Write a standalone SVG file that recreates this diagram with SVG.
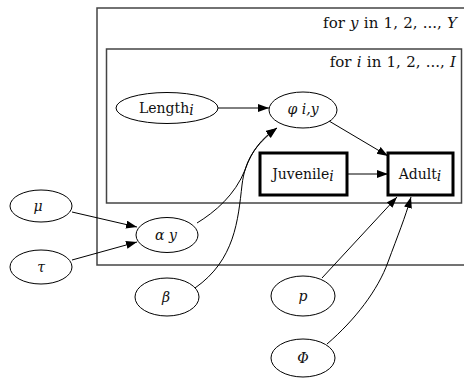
<svg xmlns="http://www.w3.org/2000/svg" width="464" height="380" viewBox="0 0 464 380" font-family="'DejaVu Serif', serif">
<defs>
<marker id="ah" markerUnits="userSpaceOnUse" markerWidth="12" markerHeight="9" refX="11" refY="4" orient="auto">
<path d="M0,0 L11,4 L0,8 z" fill="#000"/>
</marker>
<style>
.plate{fill:none;stroke:#444;stroke-width:1.5}
.node{fill:#fff;stroke:#000;stroke-width:1}
.box{fill:#fff;stroke:#000;stroke-width:3}
.edge{fill:none;stroke:#000;stroke-width:1;marker-end:url(#ah)}
text{font-family:'DejaVu Serif',serif;font-size:14px;fill:#111}
.lab{font-size:15px;word-spacing:0.5px}
.m{font-style:italic}
</style>
</defs>
<rect width="464" height="380" fill="#fff"/>
<g id="plate-y">
<rect class="plate" x="97" y="8" width="380" height="257"/>
<text class="lab" x="457" y="28" text-anchor="end">for <tspan class="m">y</tspan> in 1, 2, ..., <tspan class="m">Y</tspan></text>
</g>
<g id="plate-i">
<rect class="plate" x="106.5" y="49" width="355" height="154"/>
<text class="lab" x="456" y="67" text-anchor="end">for <tspan class="m">i</tspan> in 1, 2, ..., <tspan class="m">I</tspan></text>
</g>
<g id="edges">
<path class="edge" d="M218,108 L269,108"/>
<path class="edge" d="M329,121 L388,156"/>
<path class="edge" d="M347,174 L388,174"/>
<path class="edge" d="M72,212 L137,227"/>
<path class="edge" d="M72,260 L137,242"/>
<path class="edge" d="M197,223 C215,212 235,195 245,170 C252,150 262,138 277,128"/>
<path class="edge" d="M195,288 C235,260 238,220 242,185 C245,160 255,145 277,128"/>
<path class="edge" d="M322,278 L397,197"/>
<path class="edge" d="M327,344 C355,320 378,290 388,262 C398,235 405,218 411,197"/>
</g>
<g id="length">
<ellipse class="node" cx="167" cy="108" rx="51" ry="15.5"/>
<text x="139" y="113">Length<tspan class="m" dy="2">i</tspan></text>
</g>
<g id="phi">
<ellipse class="node" cx="303" cy="110" rx="34" ry="18"/>
<text x="303" y="114" text-anchor="middle" class="m">φ i,y</text>
</g>
<g id="juvenile">
<rect class="box" x="260" y="153" width="87" height="42"/>
<text x="303" y="179" text-anchor="middle">Juvenile<tspan class="m" dy="2">i</tspan></text>
</g>
<g id="adult">
<rect class="box" x="388" y="153" width="65" height="42"/>
<text x="420" y="179" text-anchor="middle">Adult<tspan class="m" dy="2">i</tspan></text>
</g>
<g id="mu">
<ellipse class="node" cx="41" cy="206" rx="31" ry="16"/>
<text x="38" y="211" text-anchor="middle" class="m">μ</text>
</g>
<g id="tau">
<ellipse class="node" cx="41" cy="267" rx="31" ry="17"/>
<text x="41" y="272" text-anchor="middle" class="m">τ</text>
</g>
<g id="alpha">
<ellipse class="node" cx="167" cy="235" rx="31" ry="17.5"/>
<text x="166" y="240" text-anchor="middle" class="m">α y</text>
</g>
<g id="beta">
<ellipse class="node" cx="167" cy="297" rx="32" ry="19"/>
<text x="166" y="302" text-anchor="middle" class="m">β</text>
</g>
<g id="p">
<ellipse class="node" cx="303" cy="296" rx="32" ry="20"/>
<text x="303" y="301" text-anchor="middle" class="m">p</text>
</g>
<g id="Phi">
<ellipse class="node" cx="303" cy="358" rx="32" ry="19"/>
<text x="303" y="363" text-anchor="middle" class="m">Φ</text>
</g>
</svg>
